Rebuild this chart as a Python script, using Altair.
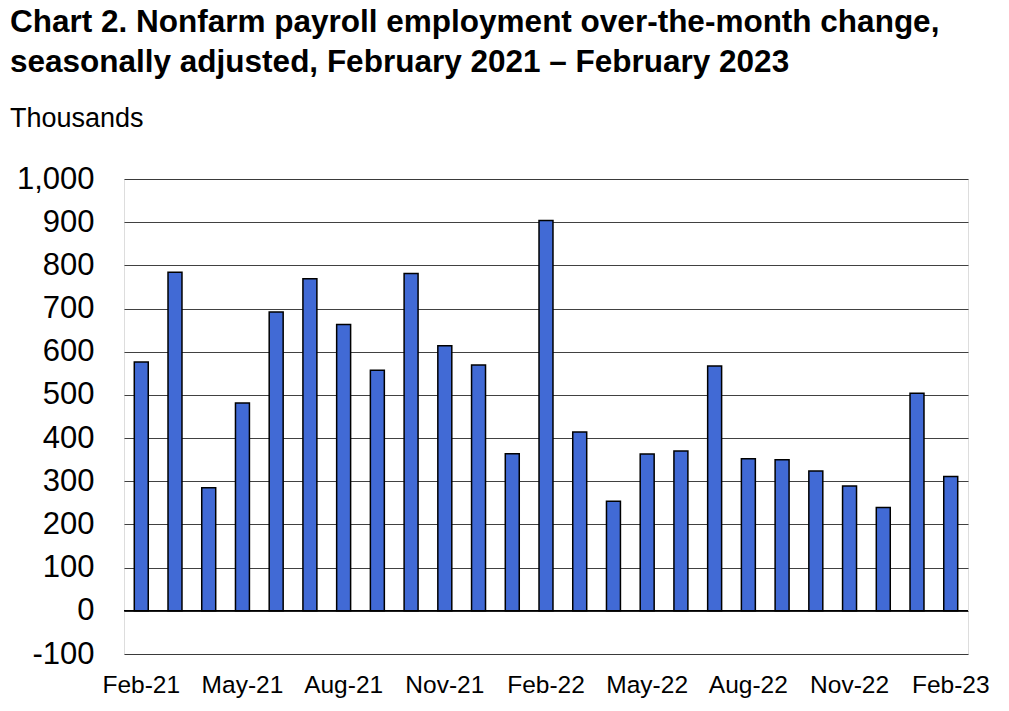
import altair as alt
import pandas as pd

months = ["Feb-21", "Mar-21", "Apr-21", "May-21", "Jun-21", "Jul-21", "Aug-21",
          "Sep-21", "Oct-21", "Nov-21", "Dec-21", "Jan-22", "Feb-22", "Mar-22",
          "Apr-22", "May-22", "Jun-22", "Jul-22", "Aug-22", "Sep-22", "Oct-22",
          "Nov-22", "Dec-22", "Jan-23", "Feb-23"]
values = [576, 784, 285, 481, 692, 769, 663, 557, 781, 614, 569, 364, 904, 414,
          254, 363, 370, 567, 352, 350, 324, 289, 239, 504, 311]
label_months = ["Feb-21", "May-21", "Aug-21", "Nov-21", "Feb-22", "May-22",
                "Aug-22", "Nov-22", "Feb-23"]
y_ticks = list(range(-100, 1001, 100))

title_lines = ["Chart 2. Nonfarm payroll employment over-the-month change,",
               "seasonally adjusted, February 2021 \u2013 February 2023"]
unit_label = "Thousands"

FONT = "Liberation Sans, Arial, sans-serif"

df = pd.DataFrame({"month": months, "value": values})

x_enc = alt.X("month:N", sort=months, title=None,
              scale=alt.Scale(paddingInner=0.586, paddingOuter=0.305),
              axis=alt.Axis(values=label_months, labelAngle=0, labelFontSize=24.5,
                            labelFont=FONT, labelColor="black", ticks=False,
                            tickSize=0, domain=False, labelPadding=19,
                            grid=False))
y_enc = alt.Y("value:Q", title=None,
              scale=alt.Scale(domain=[-100, 1000], nice=False, zero=False),
              axis=alt.Axis(values=y_ticks,
                            labelExpr="datum.value < 0 ? '-' + format(-datum.value, ',.0f') : format(datum.value, ',.0f')",
                            labelFontSize=31,
                            labelFont=FONT, labelColor="black", ticks=False,
                            tickSize=0, domain=False, labelPadding=30,
                            grid=True, gridColor="#111", gridOpacity=0.8,
                            gridWidth=1.2))

bars = alt.Chart(df).mark_bar(color="#416AD5", stroke="black",
                              strokeWidth=1.5).encode(x=x_enc, y=y_enc)

zero = alt.Chart(pd.DataFrame({"v": [0]})).mark_rule(
    color="black", strokeWidth=1.5).encode(y=alt.Y("v:Q"))

chart = alt.layer(bars, zero).properties(
    width=844, height=475,
    autosize="none",
    padding={"left": 124, "top": 179, "right": 41, "bottom": 57},
    title=alt.TitleParams(
        text=title_lines, subtitle=unit_label, anchor="start", frame="group",
        dx=-114, font=FONT, fontSize=31.5, fontWeight="bold", color="black",
        lineHeight=40, subtitleFont=FONT, subtitleFontSize=27,
        subtitleColor="black", subtitlePadding=28, offset=31),
).configure_view(stroke="black", strokeWidth=2).configure(background="white")

chart.save("out.html", embed_options={"renderer": "svg", "actions": False})
